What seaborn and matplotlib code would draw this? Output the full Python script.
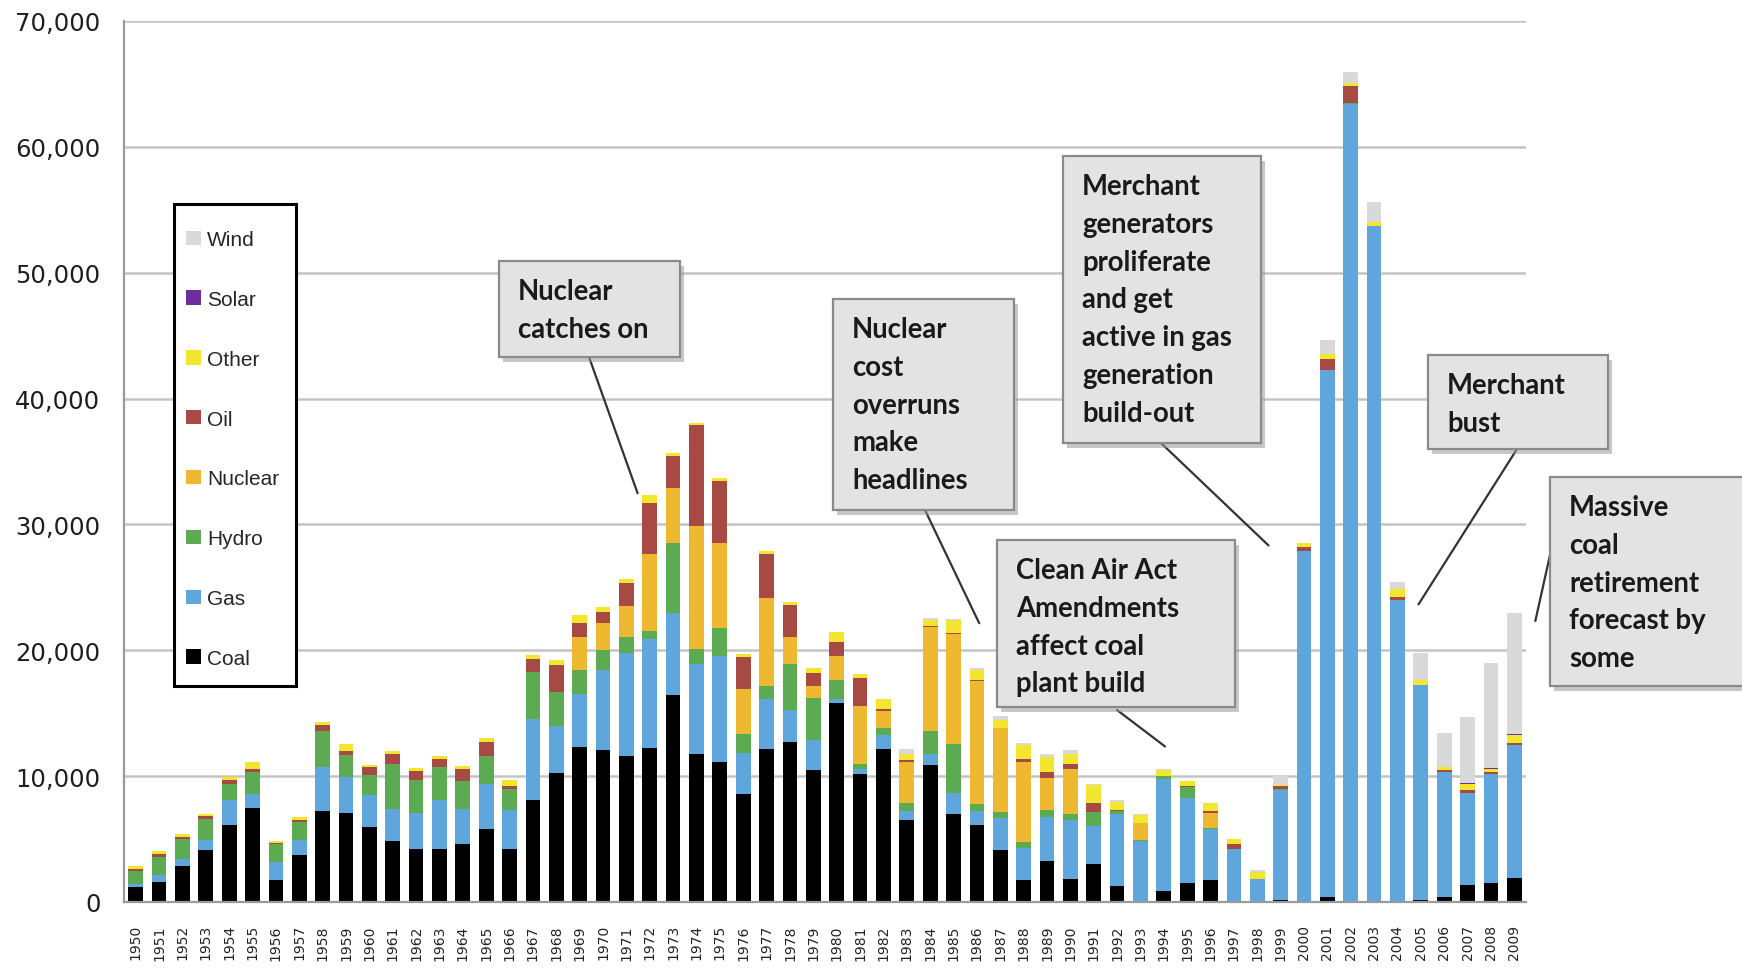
import numpy as np
import pandas as pd
import matplotlib
matplotlib.use("Agg")
import matplotlib.pyplot as plt
import seaborn as sns
from matplotlib.patches import Rectangle, Patch

# ---------------- data (MW of capacity added per year) ----------------
years = list(range(1950, 2010))
coal = [1200, 1550, 2850, 4150, 6100, 7470, 1720, 3710, 7230, 7100,
        5930, 4850, 4190, 4190, 4580, 5830, 4190, 8140, 10260, 12320,
        12060, 11580, 12240, 16480, 11790, 11130, 8560, 12190, 12720, 10470,
        15820, 10200, 12190, 6490, 10870, 7020, 6100, 4160, 1720, 3260,
        1860, 3050, 1250, 0, 870, 1510, 1720, 0, 0, 190,
        0, 400, 0, 0, 0, 190, 400, 1330, 1510, 1910]
gas = [250, 570, 600, 750, 1980, 1140, 1460, 1190, 3500, 2840,
       2550, 2570, 2890, 3890, 2840, 3580, 3150, 6440, 3710, 4240,
       6410, 8220, 8620, 6500, 7100, 8400, 3290, 3900, 2520, 2440,
       270, 400, 1060, 740, 920, 1650, 1130, 2520, 2600, 3500,
       4690, 2970, 5720, 4850, 8930, 6780, 4110, 4240, 1860, 8690,
       27900, 41880, 63400, 53750, 24000, 17040, 9940, 7340, 8640, 10600]
hydro = [1050, 1460, 1590, 1730, 1330, 1730, 1400, 1460, 2840, 1720,
         1590, 3520, 2590, 2650, 2170, 2170, 1620, 3710, 2730, 1910,
         1540, 1270, 660, 5560, 1250, 2250, 1530, 1080, 3650, 3330,
         1530, 400, 610, 670, 1800, 3860, 590, 480, 450, 530,
         470, 1140, 260, 80, 190, 850, 80, 0, 0, 130,
         0, 0, 50, 0, 0, 0, 0, 0, 0, 0]
nuclear = [0, 0, 0, 0, 0, 0, 0, 0, 0, 0,
           0, 0, 0, 0, 0, 0, 0, 0, 0, 2600,
           2170, 2440, 6170, 4370, 9730, 6760, 3580, 6950, 2180, 900,
           1910, 4560, 1320, 3230, 8250, 8800, 9750, 6670, 6360, 2590,
           3580, 0, 0, 1350, 0, 0, 1170, 0, 0, 0,
           0, 0, 0, 0, 0, 0, 0, 0, 0, 0]
oil = [150, 260, 130, 180, 320, 260, 110, 190, 530, 320,
       640, 800, 720, 670, 1010, 1140, 260, 980, 2120, 1110,
       880, 1800, 3980, 2520, 8030, 4900, 2520, 3570, 2520, 1030,
       1140, 2250, 190, 190, 80, 60, 50, 0, 270, 460,
       340, 720, 100, 0, 0, 100, 190, 340, 0, 180,
       300, 850, 1400, 0, 200, 0, 130, 200, 150, 150]
other = [250, 190, 210, 160, 210, 530, 160, 210, 210, 550,
         190, 260, 260, 230, 210, 340, 450, 390, 390, 610,
         340, 340, 660, 210, 180, 220, 260, 190, 210, 440,
         800, 340, 720, 470, 470, 1000, 800, 610, 1060, 1190,
         850, 1400, 620, 610, 530, 350, 610, 460, 530, 100,
         350, 400, 200, 300, 630, 390, 260, 540, 300, 590]
solar = [0] * 57 + [20, 30, 60]
wind = [0] * 33 + [400, 210, 130, 180, 350, 180, 260,
                   320, 100, 130, 130, 80, 0, 0, 0, 130, 690,
                   0, 1140, 900, 1560, 610, 2180, 2710, 5240, 8350, 9670]

sources = ["Wind", "Solar", "Other", "Oil", "Nuclear", "Hydro", "Gas", "Coal"]
series = {"Coal": coal, "Gas": gas, "Hydro": hydro, "Nuclear": nuclear,
          "Oil": oil, "Other": other, "Solar": solar, "Wind": wind}
palette = {"Coal": "#000000", "Gas": "#5ea6dc", "Hydro": "#5cab52",
           "Nuclear": "#eeb830", "Oil": "#a64a43", "Other": "#f3e62e",
           "Solar": "#6e2f9e", "Wind": "#d9d9d9"}

y_ticks = list(range(0, 70001, 10000))
y_tick_labels = [f"{v:,}" for v in y_ticks]

annotations = [
    (["Nuclear", "catches on"], (499, 262, 680, 358), (589, 358), (1971.48, 32480)),
    (["Nuclear", "cost", "overruns", "make", "headlines"], (833, 300, 1014, 511), (925, 511), (1986.1, 22150)),
    (["Clean Air Act", "Amendments", "affect coal", "plant build"], (997, 541, 1235, 708), (1117, 711), (1994.05, 12360)),
    (["Merchant", "generators", "proliferate", "and get", "active in gas", "generation", "build-out"],
     (1063, 157, 1261, 444), (1161, 444), (1998.48, 28330)),
    (["Merchant", "bust"], (1428, 356, 1608, 450), (1517, 450), (2004.9, 23650)),
    (["Massive", "coal", "retirement", "forecast by", "some"], (1550, 478, 1760, 687), (1550, 556), (2009.9, 22330)),
]

# ---------------- figure ----------------
long = pd.DataFrame([(y, s, series[s][i]) for s in sources for i, y in enumerate(years)],
                    columns=["year", "source", "mw"])

sns.set_theme(style="white")
plt.rcParams["font.family"] = ["DejaVu Sans"]

W, H = 1742, 970
fig = plt.figure(figsize=(W / 100, H / 100), dpi=100)
fig.patch.set_facecolor("white")


def fx(px):
    return px / W


def fy(py):
    return 1 - py / H


ax = fig.add_axes([fx(124), fy(903), fx(1526) - fx(124), fy(22) - fy(903)])

sns.histplot(data=long, x="year", weights="mw", hue="source", hue_order=sources,
             multiple="stack", discrete=True, shrink=0.63, palette=palette,
             alpha=1, linewidth=0, edgecolor="none", legend=False, ax=ax)

ax.set_xlim(1949.5, 2009.5)
ax.set_ylim(0, 70000)
ax.set_xlabel("")
ax.set_ylabel("")

ax.set_yticks(y_ticks)
ax.set_yticklabels(y_tick_labels, fontsize=17.5, color="#1e1e1e")
ax.set_xticks(years)
ax.set_xticklabels([str(y) for y in years], rotation=90, fontsize=10, color="#222222")
ax.set_xticks(np.arange(1949.5, 2010, 1), minor=True)
ax.tick_params(axis="x", which="major", length=0, pad=16)
ax.tick_params(axis="x", which="minor", length=8, width=1.3, color="#9a9a9a")
ax.tick_params(axis="y", length=0, pad=17)

ax.yaxis.grid(True, color="#c4c4c4", linewidth=1.8)
ax.xaxis.grid(False)
ax.set_axisbelow(True)
sns.despine(ax=ax)
for s in ["left", "bottom"]:
    ax.spines[s].set_color("#9a9a9a")
    ax.spines[s].set_linewidth(1.6)

# ---------------- legend ----------------
fig.patches.append(Rectangle((fx(174), fy(687)), fx(296) - fx(174), fy(205) - fy(687),
                             transform=fig.transFigure, facecolor="white",
                             edgecolor="black", linewidth=2.2, zorder=5))
handles = [Patch(facecolor=palette[s], edgecolor="none", label=s) for s in sources]
leg = fig.legend(handles=handles, loc="upper left", bbox_to_anchor=(fx(186), fy(231)),
                 frameon=False, labelspacing=1.96, handlelength=0.72,
                 handleheight=0.68, handletextpad=0.3, borderpad=0, borderaxespad=0,
                 prop={"family": "Liberation Sans", "size": 15})
leg.set_zorder(6)

# ---------------- annotations ----------------
for lines, (x0, y0, x1, y1), (sx, sy), (ex, ey) in annotations:
    # shadow
    fig.patches.append(Rectangle((fx(x0 + 4), fy(y1 + 5)), fx(x1) - fx(x0), fy(y0) - fy(y1),
                                 transform=fig.transFigure, facecolor="#9a9a9a",
                                 edgecolor="none", alpha=0.55, zorder=7))
    fig.patches.append(Rectangle((fx(x0), fy(y1)), fx(x1) - fx(x0), fy(y0) - fy(y1),
                                 transform=fig.transFigure, facecolor="#e3e3e3",
                                 edgecolor="#8a8a8a", linewidth=1.6, zorder=8))
    for k, line in enumerate(lines):
        fig.text(fx(x0 + 19), fy(y0 + 30 + 37.8 * k + 8), line, family="Lato",
                 fontweight="bold", fontsize=19.8, color="#1a1a1a",
                 ha="left", va="baseline", zorder=9)
    ax.annotate("", xy=(ex, ey), xycoords="data", xytext=(fx(sx), fy(sy)),
                textcoords="figure fraction", annotation_clip=False,
                arrowprops=dict(arrowstyle="-", color="#333333", lw=1.6,
                                shrinkA=0, shrinkB=0), zorder=4)

fig.savefig("out.png", dpi=100)
